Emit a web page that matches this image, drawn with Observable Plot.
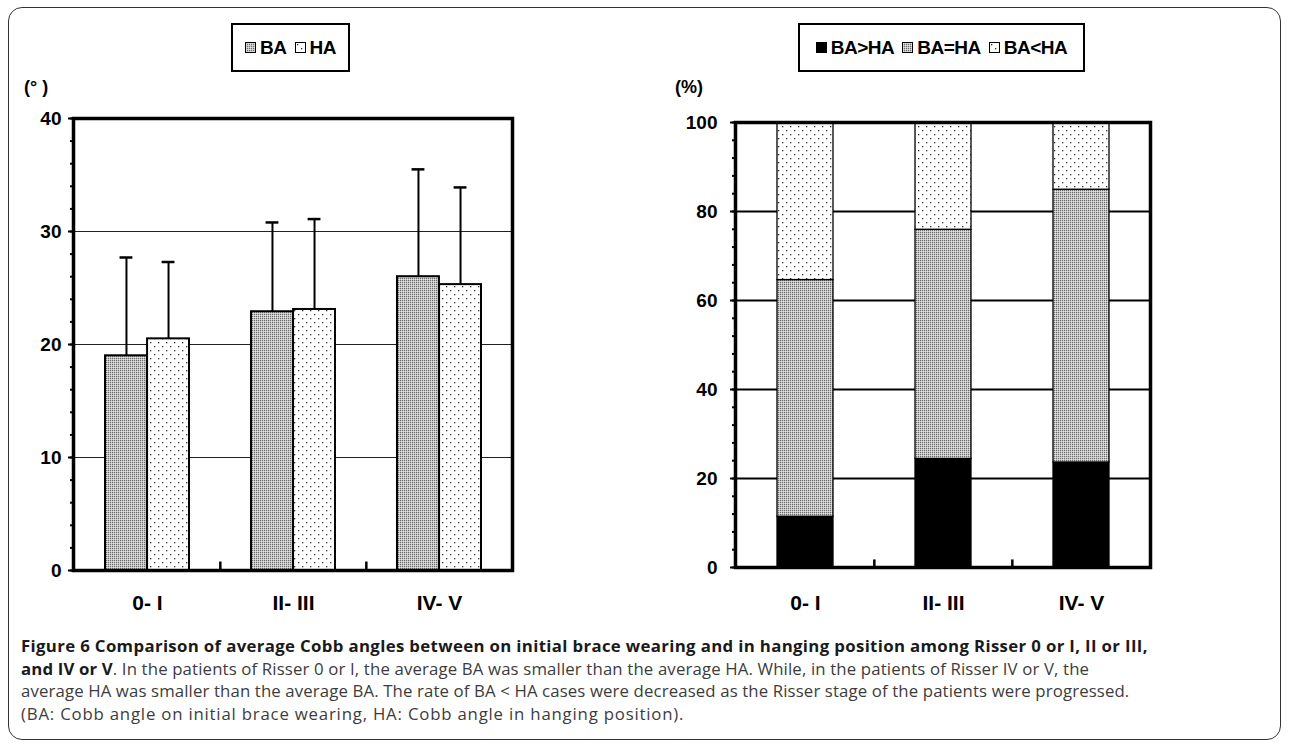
<!DOCTYPE html>
<html>
<head>
<meta charset="utf-8">
<script src="https://cdn.jsdelivr.net/npm/d3@7"></script>
<script src="https://cdn.jsdelivr.net/npm/@observablehq/plot@0.6"></script>
<style>
  html, body { margin: 0; padding: 0; background: #fff; width: 1290px; height: 746px; overflow: hidden; }
  #frame { position: absolute; left: 8px; top: 7px; width: 1273px; height: 733px; border: 1.3px solid #333; border-radius: 14px; box-sizing: border-box; }
  .chart { position: absolute; top: 0; }
  .legend { position: absolute; top: 23px; height: 49px; border: 2px solid #000; box-sizing: border-box; display: flex; align-items: center; justify-content: center; font-family: "Liberation Sans", Arial, sans-serif; font-weight: bold; font-size: 19px; gap: 8px; letter-spacing: -0.5px; }
  .legend span { display: inline-flex; align-items: center; gap: 4px; }
  .legend svg { width: 11px; height: 11px; }
  .unit { position: absolute; top: 77px; font-family: "Liberation Sans", Arial, sans-serif; font-weight: bold; font-size: 18px; }
  #caption { position: absolute; left: 21px; top: 635px; font-family: "Open Sans", sans-serif; font-size: 16.8px; line-height: 22.7px; color: #3c3c3c; white-space: nowrap; }
  #caption b { color: #1a1a1a; font-weight: 700; }
  #caption .l1 { letter-spacing: 0.35px; }
  #caption .l2 { letter-spacing: 0.14px; }
  #caption .l3 { letter-spacing: 0.12px; }
  #caption .l4 { letter-spacing: 0.8px; }
</style>
</head>
<body>
<svg width="0" height="0" style="position:absolute">
  <defs>
    <pattern id="pGray" width="2" height="2" patternUnits="userSpaceOnUse">
      <rect width="2" height="2" fill="#c4c4c4"/>
      <rect width="1" height="1" fill="#6a6a6a"/>
      <rect x="1" y="1" width="1" height="1" fill="#e2e2e2"/>
    </pattern>
    <pattern id="pDot" width="8" height="8" patternUnits="userSpaceOnUse">
      <rect width="8" height="8" fill="#fff"/>
      <rect x="2" y="2" width="1.3" height="1.3" fill="#333"/>
      <rect x="6" y="6" width="1.3" height="1.3" fill="#333"/>
    </pattern>
  </defs>
</svg>
<div id="frame"></div>

<div class="legend" style="left:231px;width:119px;">
  <span><svg viewBox="0 0 11 11"><rect x="0.5" y="0.5" width="10" height="10" fill="url(#pGray)" stroke="#000"/></svg>BA</span>
  <span><svg viewBox="0 0 11 11"><rect x="0.5" y="0.5" width="10" height="10" fill="url(#pDot)" stroke="#000"/></svg>HA</span>
</div>
<div class="legend" style="left:798px;width:287px;">
  <span><svg viewBox="0 0 11 11"><rect x="0.5" y="0.5" width="10" height="10" fill="#000" stroke="#000"/></svg>BA&gt;HA</span>
  <span><svg viewBox="0 0 11 11"><rect x="0.5" y="0.5" width="10" height="10" fill="url(#pGray)" stroke="#000"/></svg>BA=HA</span>
  <span><svg viewBox="0 0 11 11"><rect x="0.5" y="0.5" width="10" height="10" fill="url(#pDot)" stroke="#000"/></svg>BA&lt;HA</span>
</div>
<div class="unit" style="left:24px;">(°&nbsp;)</div>
<div class="unit" style="left:675px;">(%)</div>

<div id="left" class="chart" style="left:0px;"></div>
<div id="right" class="chart" style="left:640px;"></div>

<div id="caption"><span class="l1"><b>Figure 6 Comparison of average Cobb angles between on initial brace wearing and in hanging position among Risser 0 or I, II or III,</b></span><br><span class="l2"><b>and IV or V</b>. In the patients of Risser 0 or I, the average BA was smaller than the average HA. While, in the patients of Risser IV or V, the</span><br><span class="l3">average HA was smaller than the average BA. The rate of BA &lt; HA cases were decreased as the Risser stage of the patients were progressed.</span><br><span class="l4">(BA: Cobb angle on initial brace wearing, HA: Cobb angle in hanging position).</span></div>

<script>
// ---- data ----
const groups = ["0- I", "II- III", "IV- V"];
const baMean = [19.0, 22.9, 26.0];
const baSD   = [8.7, 7.9, 9.5];
const haMean = [20.5, 23.1, 25.3];
const haSD   = [6.8, 8.0, 8.6];

const stackSeries = ["BA>HA", "BA=HA", "BA<HA"];
const pctBaGtHa = [11.4, 24.4, 23.6];
const pctBaEqHa = [53.2, 51.5, 61.3];
const pctBaLtHa = [35.4, 24.1, 15.1];

const leftTicks = [0, 10, 20, 30, 40];
const rightTicks = [0, 20, 40, 60, 80, 100];

const font = '"Liberation Sans", Arial, sans-serif';

// ---- left chart ----
const ba = groups.map((g, i) => ({group: g, mean: baMean[i], hi: baMean[i] + baSD[i]}));
const ha = groups.map((g, i) => ({group: g, mean: haMean[i], hi: haMean[i] + haSD[i]}));

const L = {width: 530, height: 625, ml: 73, mr: 18, mt: 118, mb: 55};
const Lstep = (L.width - L.ml - L.mr) / groups.length;
const Lp = 0.425;
const Lbw = Lstep * (1 - Lp);
const half = Lbw / 2;

const left = Plot.plot({
  width: L.width, height: L.height,
  marginLeft: L.ml, marginRight: L.mr, marginTop: L.mt, marginBottom: L.mb,
  style: {fontFamily: font, fontSize: "18px", fontWeight: "bold", color: "#000", background: "transparent", overflow: "visible"},
  x: {domain: groups, paddingInner: Lp, paddingOuter: Lp / 2, label: null},
  y: {domain: [0, 40], label: null},
  marks: [
    Plot.gridY(leftTicks.slice(1, -1), {stroke: "#222", strokeOpacity: 1, strokeWidth: 1}),
    Plot.ruleX(ba, {x: "group", y1: "mean", y2: "hi", dx: -half / 2, stroke: "#000", strokeWidth: 2}),
    Plot.tickY(ba, {x: "group", y: "hi", dx: -half / 2, insetLeft: half - 6.5, insetRight: half - 6.5, stroke: "#000", strokeWidth: 2.5}),
    Plot.ruleX(ha, {x: "group", y1: "mean", y2: "hi", dx: half / 2, stroke: "#000", strokeWidth: 2}),
    Plot.tickY(ha, {x: "group", y: "hi", dx: half / 2, insetLeft: half - 6.5, insetRight: half - 6.5, stroke: "#000", strokeWidth: 2.5}),
    Plot.barY(ba, {x: "group", y: "mean", insetRight: half, fill: "url(#pGray)", stroke: "#000", strokeWidth: 2}),
    Plot.barY(ha, {x: "group", y: "mean", insetLeft: half, fill: "url(#pDot)", stroke: "#000", strokeWidth: 2}),
    Plot.ruleX(groups.slice(1), {x: d => d, dx: -Lstep / 2, y1: 0, y2: 0.75, stroke: "#000", strokeWidth: 2.5}),
    Plot.axisY({ticks: d3.range(0, 41, 2), tickSize: 3, text: null, strokeWidth: 2}),
    Plot.axisY({ticks: leftTicks, tickSize: 5, tickPadding: 7, strokeWidth: 2, fontSize: 19}),
    Plot.axisX({tickSize: 0, tickPadding: 25, fontSize: 21}),
    Plot.frame({stroke: "#000", strokeWidth: 3.5})
  ]
});
document.getElementById("left").append(left);

// ---- right chart ----
const stackData = [];
groups.forEach((g, i) => {
  stackData.push({group: g, series: stackSeries[0], value: pctBaGtHa[i]});
  stackData.push({group: g, series: stackSeries[1], value: pctBaEqHa[i]});
  stackData.push({group: g, series: stackSeries[2], value: pctBaLtHa[i]});
});

const R = {width: 530, height: 625, ml: 95, mr: 20, mt: 122, mb: 58};
const Rstep = (R.width - R.ml - R.mr) / groups.length;
const Rp = 0.595;

const right = Plot.plot({
  width: R.width, height: R.height,
  marginLeft: R.ml, marginRight: R.mr, marginTop: R.mt, marginBottom: R.mb,
  style: {fontFamily: font, fontSize: "18px", fontWeight: "bold", color: "#000", background: "transparent", overflow: "visible"},
  x: {domain: groups, paddingInner: Rp, paddingOuter: Rp / 2, label: null},
  y: {domain: [0, 100], label: null},
  color: {domain: stackSeries, range: ["#000", "url(#pGray)", "url(#pDot)"]},
  marks: [
    Plot.gridY(rightTicks.slice(1, -1), {stroke: "#000", strokeOpacity: 1, strokeWidth: 2}),
    Plot.barY(stackData, {x: "group", y: "value", fill: "series", stroke: "#000", strokeWidth: 1.3}),
    Plot.ruleX(groups.slice(1), {x: d => d, dx: -Rstep / 2, y1: 0, y2: 1.7, stroke: "#000", strokeWidth: 2.5}),
    Plot.axisY({ticks: d3.range(0, 101, 4), tickSize: 3, text: null, strokeWidth: 2}),
    Plot.axisY({ticks: rightTicks, tickSize: 5, tickPadding: 13, strokeWidth: 2, fontSize: 19}),
    Plot.axisX({tickSize: 0, tickPadding: 28, fontSize: 21}),
    Plot.frame({stroke: "#000", strokeWidth: 3.5})
  ]
});
document.getElementById("right").append(right);
</script>
</body>
</html>
